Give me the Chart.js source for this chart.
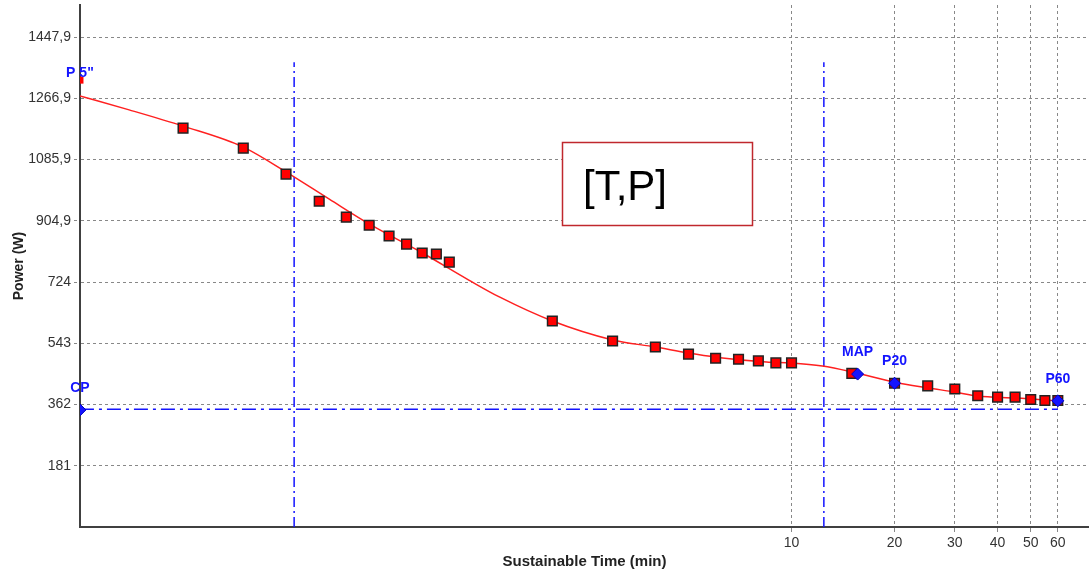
<!DOCTYPE html>
<html>
<head>
<meta charset="utf-8">
<script src="https://cdn.jsdelivr.net/npm/chart.js@4"></script>
<style>
  body { margin: 0; background: #fff; }
  #wrap { width: 1089px; height: 574px; }
</style>
</head>
<body>
<div id="wrap"><canvas id="tp-chart" width="1089" height="574"></canvas></div>
<script>
// MEASURED POINTS (time in min, power in W)
const pointT = [0.1667, 0.25, 0.3333, 0.4167, 0.5, 0.5833, 0.6667, 0.75, 0.8333, 0.9167, 1,
                2, 3, 4, 5, 6, 7, 8, 9, 10, 15, 20, 25, 30, 35, 40, 45, 50, 55, 60];
const pointP = [1179, 1120, 1043, 963, 916, 892, 860, 836, 810, 807, 783,
                609, 550, 532, 511, 499, 496, 491, 485, 485, 454, 425, 417, 408, 388, 384, 384, 377, 374, 374];

// FITTED CURVE
const curveT = [0.0833, 0.116, 0.1667, 0.25, 0.334, 0.446, 0.585, 0.835, 1.14, 1.40, 2, 3, 4, 5, 6,
                8.45, 10, 12.3, 15.1, 20, 25.1, 30, 35, 45.4, 60];
const curveP = [1274, 1233, 1185, 1123, 1049, 969, 895, 810, 730, 680, 609, 553, 532, 514, 502,
                488, 485, 476, 458, 428, 411, 399, 387, 381, 372];

// KEY POINTS
const keyLabels = ['P 5"', 'CP', 'MAP', 'P20', 'P60'];
const keyT = [0.0833, 0.0833, 15.6, 20, 60];
const keyP = [1276, 346, 452, 425, 373];

// P5" peak marker
const peakT = [0.0833];
const peakP = [1321];

// CP LINE AND VERTICAL MARKERS
const cpT = [0.0833, 60];
const cpP = [348, 348];
const vLineT = [0.352, 12.43];
const vLineTop = 1374;

// AXES
const xTicks = [10, 20, 30, 40, 50, 60];
const yTickValues = [181, 362, 543, 724, 904.9, 1085.9, 1266.9, 1447.9];
const yTickLabels = ['181', '362', '543', '724', '904,9', '1085,9', '1266,9', '1447,9'];

const toXY = (xs, ys) => xs.map((x, i) => ({x: x, y: ys[i]}));

const blue = '#1414ff';

// labels for key points and the [T,P] box
const extraDraw = {
    id: 'extraDraw',
    afterDatasetsDraw(chart){
        const ctx = chart.ctx;
        const xs = chart.scales.x, ys = chart.scales.y;
        ctx.save();
        ctx.font = 'bold 14px "Liberation Sans", Arial, sans-serif';
        ctx.fillStyle = blue;
        ctx.textAlign = 'center';
        ctx.textBaseline = 'middle';
        keyLabels.forEach((lab, i)=>{
            let px = xs.getPixelForValue(keyT[i]);
            ctx.fillText(lab, px, ys.getPixelForValue(keyP[i]) - 22);
        });
        // the box
        ctx.fillStyle = '#fff';
        ctx.fillRect(562, 142, 190, 83);
        ctx.strokeStyle = '#c0282d';
        ctx.lineWidth = 1.5;
        ctx.strokeRect(562.5, 142.5, 190, 83);
        ctx.fillStyle = '#000';
        ctx.font = '42px "Liberation Sans", Arial, sans-serif';
        ctx.textAlign = 'left';
        ctx.textBaseline = 'alphabetic';
        ctx.fillText('[T,P]', 583, 200);
        ctx.restore();
    }
};

const vLineSets = vLineT.map((t)=>({
    type: 'line',
    data: [{x: t, y: 0}, {x: t, y: vLineTop}],
    borderColor: blue,
    borderWidth: 1.5,
    borderDash: [10, 4, 2, 4],
    pointRadius: 0,
    order: 5
}));

var ctx = document.getElementById('tp-chart').getContext('2d');
var chart = new Chart(ctx, {
    type: 'line',
    data: {
        datasets: [
            {
                data: toXY(keyT, keyP),
                showLine: false,
                pointStyle: 'rectRot',
                pointRadius: 6,
                backgroundColor: blue,
                borderColor: '#0000c0',
                borderWidth: 1,
                clip: 0,
                order: 1
            },
            {
                data: toXY(pointT, pointP),
                showLine: false,
                pointStyle: 'rect',
                pointRadius: 6.8,
                backgroundColor: '#ff0000',
                borderColor: '#222',
                borderWidth: 1.5,
                order: 2
            },
            {
                data: toXY(peakT, peakP),
                showLine: false,
                pointStyle: 'rect',
                pointRadius: 5,
                backgroundColor: '#ff0000',
                borderWidth: 0,
                clip: 0,
                order: 3
            },
            {
                data: toXY(curveT, curveP),
                borderColor: '#ff2020',
                borderWidth: 1.5,
                pointRadius: 0,
                cubicInterpolationMode: 'monotone',
                order: 4
            },
            {
                data: toXY(cpT, cpP),
                borderColor: blue,
                borderWidth: 1.5,
                borderDash: [14, 5, 3, 5],
                pointRadius: 0,
                order: 5
            },
            ...vLineSets
        ]
    },
    options: {
        responsive: false,
        animation: false,
        layout: { autoPadding: false, padding: { top: 5, left: 0, right: 0, bottom: 0 } },
        plugins: {
            legend: { display: false },
            tooltip: { enabled: false }
        },
        scales: {
            x: {
                type: 'logarithmic',
                min: 5 / 60,
                max: 74,
                afterBuildTicks: (s)=>{ s.ticks = xTicks.map(v=>({value: v})); },
                afterFit: (s)=>{ s.height = 47; s.paddingRight = 0; s.paddingLeft = 0; },
                grid: { color: '#888', lineWidth: 1, tickLength: 5, tickColor: '#888' },
                border: { color: '#404040', width: 2, dash: [3, 3] },
                ticks: {
                    autoSkip: false, maxRotation: 0, padding: 3, color: '#333',
                    font: { family: '"Liberation Sans", Arial, sans-serif', size: 14 },
                    callback: (v)=> String(v)
                },
                title: {
                    display: true, text: 'Sustainable Time (min)', color: '#222',
                    padding: { top: 0, bottom: 3 },
                    font: { family: '"Liberation Sans", Arial, sans-serif', size: 15, weight: 'bold' }
                }
            },
            y: {
                min: 0,
                max: 1543,
                afterBuildTicks: (s)=>{ s.ticks = yTickValues.map(v=>({value: v})); },
                afterFit: (s)=>{ s.width = 80; s.paddingTop = 0; s.paddingBottom = 0; },
                grid: { color: '#888', lineWidth: 1, tickLength: 6, tickColor: '#888', tickBorderDash: [3, 3] },
                border: { color: '#404040', width: 2, dash: [3, 3] },
                ticks: {
                    padding: 3, color: '#333',
                    font: { family: '"Liberation Sans", Arial, sans-serif', size: 14 },
                    callback: (v, i)=> yTickLabels[i]
                },
                title: {
                    display: true, text: 'Power (W)', color: '#222',
                    padding: { top: 11, bottom: 0 },
                    font: { family: '"Liberation Sans", Arial, sans-serif', size: 14, weight: 'bold' }
                }
            }
        }
    },
    plugins: [extraDraw]
});
</script>
</body>
</html>
